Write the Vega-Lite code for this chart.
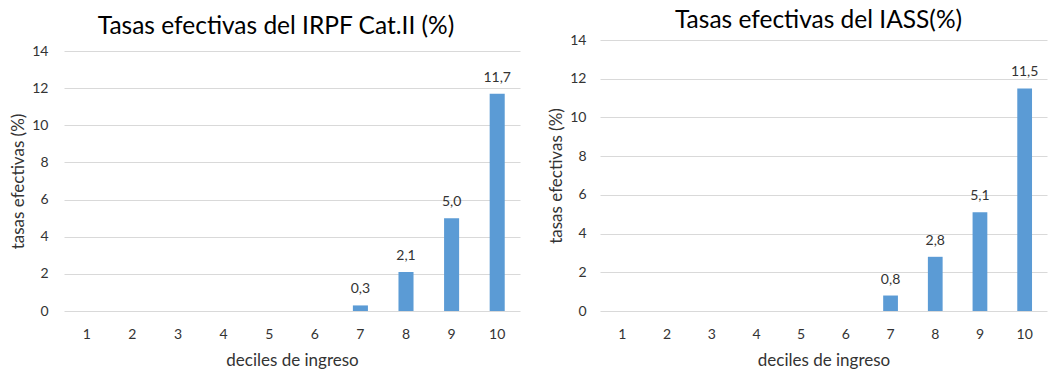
{
  "$schema": "https://vega.github.io/schema/vega-lite/v6.json",
  "background": "white",
  "padding": {"left": 9, "top": 7, "right": 0, "bottom": 0},
  "bounds": "flush",
  "spacing": 80,
  "config": {
    "font": "Lato",
    "locale": {"number": {"decimal": ",", "thousands": ".", "grouping": [3], "currency": ["", " €"]}},
    "view": {"stroke": null},
    "axis": {"labelFont": "Lato", "labelFontSize": 14, "labelColor": "#333333", "titleFont": "Lato", "titleFontSize": 17, "titleFontWeight": "normal", "titleColor": "#333333", "gridColor": "#d9d9d9", "gridWidth": 1, "domain": false, "ticks": false},
    "title": {"font": "Lato", "fontSize": 24.5, "fontWeight": "normal", "color": "#000000", "baseline": "alphabetic", "frame": "group", "anchor": "middle"}
  },
  "datasets": {
    "irpf": [
      {"decil": 1, "tasa": 0}, {"decil": 2, "tasa": 0}, {"decil": 3, "tasa": 0}, {"decil": 4, "tasa": 0}, {"decil": 5, "tasa": 0},
      {"decil": 6, "tasa": 0}, {"decil": 7, "tasa": 0.3}, {"decil": 8, "tasa": 2.1}, {"decil": 9, "tasa": 5.0}, {"decil": 10, "tasa": 11.7}
    ],
    "iass": [
      {"decil": 1, "tasa": 0}, {"decil": 2, "tasa": 0}, {"decil": 3, "tasa": 0}, {"decil": 4, "tasa": 0}, {"decil": 5, "tasa": 0},
      {"decil": 6, "tasa": 0}, {"decil": 7, "tasa": 0.8}, {"decil": 8, "tasa": 2.8}, {"decil": 9, "tasa": 5.1}, {"decil": 10, "tasa": 11.5}
    ]
  },
  "hconcat": [
    {
      "width": 456,
      "height": 271,
      "title": {"text": "Tasas efectivas del IRPF Cat.II (%)", "offset": 1, "dx": -16},
      "data": {"name": "irpf"},
      "encoding": {
        "x": {"field": "decil", "type": "ordinal", "scale": {"domain": [1, 2, 3, 4, 5, 6, 7, 8, 9, 10], "paddingInner": 0.67, "paddingOuter": 0.335}, "axis": {"title": "deciles de ingreso", "labelAngle": 0, "labelPadding": 16.5, "titlePadding": 11, "grid": false}},
        "y": {"field": "tasa", "type": "quantitative", "scale": {"domain": [0, 14], "range": [271, 11], "nice": false}, "axis": {"title": "tasas efectivas (%)", "values": [0, 2, 4, 6, 8, 10, 12, 14], "labelPadding": 16, "titlePadding": 4, "grid": true}}
      },
      "layer": [
        {"mark": {"type": "bar", "color": "#5b9bd5"}},
        {"transform": [{"filter": "datum.tasa > 0"}], "mark": {"type": "text", "dy": -16, "fontSize": 14, "color": "#333333", "font": "Lato"}, "encoding": {"text": {"field": "tasa", "type": "quantitative", "format": ".1f"}}}
      ]
    },
    {
      "width": 455,
      "height": 271,
      "title": {"text": "Tasas efectivas del IASS(%)", "offset": 0, "dx": -9},
      "data": {"name": "iass"},
      "encoding": {
        "x": {"field": "decil", "type": "ordinal", "scale": {"domain": [1, 2, 3, 4, 5, 6, 7, 8, 9, 10], "range": [0, 447], "paddingInner": 0.67, "paddingOuter": 0.335}, "axis": {"title": "deciles de ingreso", "labelAngle": 0, "labelPadding": 16.5, "titlePadding": 11, "grid": false}},
        "y": {"field": "tasa", "type": "quantitative", "scale": {"domain": [0, 14], "nice": false}, "axis": {"title": "tasas efectivas (%)", "values": [0, 2, 4, 6, 8, 10, 12, 14], "labelPadding": 14, "titlePadding": 4.5, "grid": true}}
      },
      "layer": [
        {"mark": {"type": "bar", "color": "#5b9bd5"}},
        {"transform": [{"filter": "datum.tasa > 0"}], "mark": {"type": "text", "dy": -16, "fontSize": 14, "color": "#333333", "font": "Lato"}, "encoding": {"text": {"field": "tasa", "type": "quantitative", "format": ".1f"}}}
      ]
    }
  ]
}
